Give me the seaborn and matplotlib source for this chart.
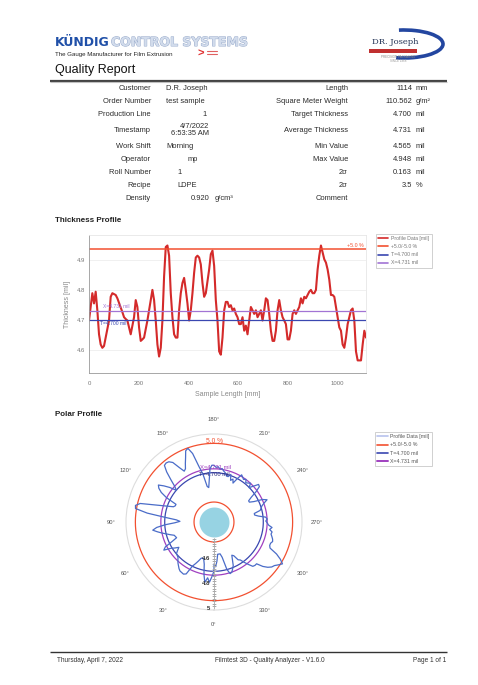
import numpy as np
import pandas as pd
import matplotlib
matplotlib.use("Agg")
import matplotlib.pyplot as plt
import seaborn as sns
from matplotlib.lines import Line2D
from matplotlib.patches import Arc, Rectangle
import matplotlib.patheffects as pe

sns.set_style("white")
plt.rcParams["font.family"] = ["Liberation Sans", "DejaVu Sans"]

# ---------------- data ----------------
left_labels = ["Customer", "Order Number", "Production Line", "Timestamp",
               "Work Shift", "Operator", "Roll Number", "Recipe", "Density"]
left_values = ["D.R. Joseph", "test sample", "1", "4/7/2022\n6:53:35 AM",
               "Morning", "mp", "1", "LDPE", "0.920"]
left_units = ["", "", "", "", "", "", "", "", "g/cm³"]
right_labels = ["Length", "Square Meter Weight", "Target Thickness", "Average Thickness",
                "Min Value", "Max Value", "2σ", "2σ", "Comment"]
right_values = ["1114", "110.562", "4.700", "4.731", "4.565", "4.948", "0.163", "3.5", ""]
right_units = ["mm", "g/m²", "mil", "mil", "mil", "mil", "mil", "%", ""]

length_mm = 1114
target_mil = 4.700
average_mil = 4.731
tolerance_pct = 5.0

thickness_mil = [
    4.698, 4.743, 4.789, 4.755, 4.794, 4.732, 4.652, 4.618, 4.607, 4.613,
    4.641, 4.669, 4.698, 4.777, 4.789, 4.786, 4.783, 4.772, 4.757, 4.743,
    4.726, 4.709, 4.703, 4.698, 4.675, 4.652, 4.681, 4.709, 4.766, 4.743,
    4.675, 4.630, 4.635, 4.641, 4.669, 4.698, 4.732, 4.766, 4.800, 4.766,
    4.698, 4.618, 4.578, 4.607, 4.698, 4.845, 4.943, 4.948, 4.914, 4.789,
    4.709, 4.652, 4.641, 4.641, 4.732, 4.789, 4.823, 4.840, 4.800, 4.755,
    4.698, 4.732, 4.789, 4.857, 4.908, 4.914, 4.908, 4.885, 4.823, 4.777,
    4.789, 4.828, 4.868, 4.919, 4.931, 4.880, 4.766, 4.698, 4.595, 4.584,
    4.641, 4.732, 4.760, 4.760, 4.743, 4.749, 4.732, 4.738, 4.720, 4.709,
    4.686, 4.686, 4.709, 4.664, 4.681, 4.652, 4.698, 4.743, 4.732, 4.720,
    4.732, 4.709, 4.720, 4.732, 4.698, 4.732, 4.772, 4.766, 4.720, 4.664,
    4.630, 4.630, 4.664, 4.732, 4.766, 4.732, 4.709, 4.698, 4.686, 4.635,
    4.635, 4.664, 4.720, 4.732, 4.720, 4.732, 4.743, 4.772, 4.755, 4.777,
    4.772, 4.783, 4.794, 4.800, 4.789, 4.789, 4.800, 4.868, 4.914, 4.948,
    4.925, 4.902, 4.891, 4.868, 4.834, 4.783, 4.783, 4.777, 4.743, 4.709,
    4.675, 4.664, 4.618, 4.607, 4.641, 4.686, 4.709, 4.732, 4.738, 4.698,
    4.595, 4.565, 4.565, 4.565, 4.618, 4.664, 4.641,
]

x_ticks_mm = [0, 200, 400, 600, 800, 1000]
y_ticks_mil = [4.6, 4.7, 4.8, 4.9]
polar_angles_deg = [0, 30, 60, 90, 120, 150, 180, 210, 240, 270, 300, 330]
polar_r_ticks = [4.6, 4.8, 5.0]
polar_r_tick_text = ["4.6", "4.8", "5"]

footer_left = "Thursday, April 7, 2022"
footer_mid = "Filmtest 3D - Quality Analyzer - V1.6.0"
footer_right = "Page 1 of 1"

# ---------------- derived ----------------
n = len(thickness_mil)
position_mm = np.linspace(0, length_mm, n)
upper = target_mil * (1 + tolerance_pct / 100)
lower = target_mil * (1 - tolerance_pct / 100)
df = pd.DataFrame({"position": position_mm, "thickness": thickness_mil})
df["theta"] = np.deg2rad(df["position"] / length_mm * 360.0)
df_closed = pd.concat([df, df.iloc[[0]].assign(theta=2 * np.pi)], ignore_index=True)

# colours
c_profile = "#d42a2a"
c_tol = "#f25030"
c_target = "#3a47b0"
c_avg = "#a274d4"
c_polar = "#4a6cc8"
c_avg_polar = "#a040c0"

# ---------------- figure ----------------
W, H = 478, 685
fig = plt.figure(figsize=(W / 100, H / 100), dpi=100)
fig.patch.set_facecolor("white")
pg = fig.add_axes([0, 0, 1, 1])
pg.set_xlim(0, W)
pg.set_ylim(H, 0)
pg.axis("off")


def rect(l, t, r, b):
    return [l / W, 1 - b / H, (r - l) / W, (b - t) / H]


# header
pg.text(55, 46, "KÜNDIG", fontsize=9, fontweight="heavy", color="#2050a8",
        family="DejaVu Sans", va="baseline")
pg.text(111, 46, "CONTROL SYSTEMS", fontsize=9, fontweight="bold", color="#d2dcec",
        family="DejaVu Sans", va="baseline",
        path_effects=[pe.withStroke(linewidth=0.7, foreground="#9aaccc")])
pg.text(55, 56, "The Gauge Manufacturer for Film Extrusion", fontsize=4.4,
        color="#222222", va="baseline")
pg.text(198, 57, ">", fontsize=8, color="#e03030", fontweight="bold", va="baseline")
pg.plot([207, 217], [50.5, 50.5], color="#e06060", lw=0.8)
pg.plot([207, 217], [53.5, 53.5], color="#e06060", lw=0.8)

# DR Joseph logo
pg.add_patch(Arc((404, 44), 78, 28, theta1=-110, theta2=120, color="#2346a0", lw=2.6))
pg.text(372, 44, "DR. Joseph", fontsize=6, family="DejaVu Serif", color="#223355",
        va="baseline")
pg.add_patch(Rectangle((369, 48.5), 48, 4, color="#c03030", lw=0))
pg.text(398, 58, "PRECISION PACKAGING", fontsize=2.2, color="#888888", ha="center")
pg.text(398, 61.5, "SINCE 1968", fontsize=2.2, color="#999999", ha="center")

pg.text(55, 70, "Quality Report", fontsize=9, color="#111111", va="center")
pg.plot([50, 447], [80.5, 80.5], color="#444444", lw=1.6, solid_capstyle="butt")
pg.plot([50, 447], [82.3, 82.3], color="#c0c0c0", lw=0.8, solid_capstyle="butt")

# table
rows_y = [88, 101, 114, 130, 146, 159, 172, 185, 198]
left_val_pos = [(166, "left"), (166, "left"), (207, "right"), (209, "right"),
                (166, "left"), (188, "left"), (180, "center"), (177, "left"), (210, "right")]
tfs = 5.4
tcol = "#2a2a2a"
for i, y in enumerate(rows_y):
    pg.text(151, y, left_labels[i], fontsize=tfs, color=tcol, ha="right", va="center")
    vx, ha = left_val_pos[i]
    pg.text(vx, y, left_values[i], fontsize=tfs, color=tcol, ha=ha, va="center",
            linespacing=0.95)
    if left_units[i]:
        pg.text(215, y, left_units[i], fontsize=tfs, color=tcol, ha="left", va="center")
    pg.text(348, y, right_labels[i], fontsize=tfs, color=tcol, ha="right", va="center")
    if right_values[i]:
        pg.text(412, y, right_values[i], fontsize=tfs, color=tcol, ha="right", va="center")
    if right_units[i]:
        pg.text(416, y, right_units[i], fontsize=tfs, color=tcol, ha="left", va="center")

# ---------------- thickness profile ----------------
pg.text(55, 220, "Thickness Profile", fontsize=5.8, fontweight="bold", color="#222222",
        va="center")
ax = fig.add_axes(rect(89, 235, 366, 373))
ax.set_facecolor("white")
sns.lineplot(data=df, x="position", y="thickness", ax=ax, color=c_profile, lw=1.5,
             estimator=None, legend=False)
ax.axhline(upper, color=c_tol, lw=1.1)
ax.axhline(lower, color=c_tol, lw=1.1)
ax.axhline(target_mil, color=c_target, lw=0.9)
ax.axhline(average_mil, color=c_avg, lw=0.9)
ax.set_xlim(0, length_mm)
ax.set_ylim(4.523, 4.983)
ax.set_xticks(x_ticks_mm)
ax.set_yticks(y_ticks_mil)
ax.set_xticklabels([str(v) for v in x_ticks_mm])
ax.set_yticklabels([f"{v:.1f}" for v in y_ticks_mil])
ax.tick_params(labelsize=4.3, colors="#777777", length=0)
ax.tick_params(axis="x", pad=6)
ax.tick_params(axis="y", pad=3)
ax.grid(axis="y", color="#eeeeee", lw=0.6)
for s in ax.spines.values():
    s.set_color("#e6e6e6")
    s.set_linewidth(0.6)
ax.spines["left"].set_color("#999999")
ax.spines["bottom"].set_color("#999999")
ax.set_xlabel("Sample Length [mm]", fontsize=5.0, color="#888888", labelpad=3)
ax.set_ylabel("Thickness [mil]", fontsize=5.0, color="#888888", labelpad=4)
ax.text(55, average_mil + 0.004, f"X={average_mil:.3f} mil", fontsize=3.6, color=c_avg,
        va="bottom")
ax.text(45, target_mil - 0.005, f"T={target_mil:.3f} mil", fontsize=3.6, color=c_target,
        va="top")
ax.text(length_mm - 10, upper + 0.006, f"+{tolerance_pct:.1f} %", fontsize=3.8,
        color=c_tol, ha="right", va="bottom")

h1 = [Line2D([0], [0], color=c_profile, lw=1.2, drawstyle="steps-post"),
      Line2D([0], [0], color=c_tol, lw=1.2),
      Line2D([0], [0], color=c_target, lw=1.2),
      Line2D([0], [0], color=c_avg, lw=1.2)]
l1 = ["Profile Data [mil]", f"+{tolerance_pct:.1f}/-{tolerance_pct:.1f} %",
      f"T={target_mil:.3f} mil", f"X={average_mil:.3f} mil"]
leg = fig.legend(h1, l1, loc="upper left", bbox_to_anchor=(373 / W, 1 - 231 / H),
                 fontsize=3.7, frameon=True, fancybox=False, edgecolor="#bbbbbb",
                 handlelength=2.0, borderpad=0.5, labelspacing=0.6, handletextpad=0.5,
                 labelcolor="#777777")
leg.get_frame().set_linewidth(0.6)

# ---------------- polar profile ----------------
pg.text(55, 414, "Polar Profile", fontsize=5.8, fontweight="bold", color="#222222",
        va="center")
pax = fig.add_axes(rect(126, 434, 302, 610), projection="polar")
pax.set_theta_zero_location("S")
pax.set_theta_direction(-1)
r_min, r_max = 4.305, 5.01
theta_full = np.linspace(0, 2 * np.pi, 361)
pax.fill_between(theta_full, r_min, 4.425, color="#97d3e3", lw=0)
pax.plot(theta_full, np.full_like(theta_full, upper), color=c_tol, lw=0.9)
pax.plot(theta_full, np.full_like(theta_full, lower), color=c_tol, lw=0.9)
pax.plot(theta_full, np.full_like(theta_full, average_mil), color=c_avg_polar, lw=0.9)
pax.plot(theta_full, np.full_like(theta_full, target_mil), color=c_target, lw=0.9)
sns.lineplot(data=df_closed, x="theta", y="thickness", ax=pax, color=c_polar, lw=0.9,
             estimator=None, sort=False, legend=False)
pax.plot([0, 0], [4.43, r_max], color="#aaaaaa", lw=0.6)
minor_r = np.arange(4.44, 5.0, 0.02)
pax.plot(np.zeros_like(minor_r), minor_r, ls="none", marker="_", ms=2.2,
         color="#aaaaaa", mew=0.5)
pax.set_rlim(r_min, r_max)
pax.set_yticks([])
pax.set_xlabel("")
pax.set_ylabel("")
pax.grid(False)
pax.spines["polar"].set_color("#dddddd")
pax.spines["polar"].set_linewidth(0.8)
pax.set_thetagrids(polar_angles_deg, [f"{a}°" for a in polar_angles_deg])
pax.tick_params(axis="x", labelsize=4.2, colors="#555555", pad=0)
for rv, rt in zip(polar_r_ticks, polar_r_tick_text):
    pax.annotate(rt, xy=(0, rv), xytext=(-2.5, 0), textcoords="offset points",
                 ha="right", va="center", fontsize=4.3, fontweight="bold", color="#333333")
pax.annotate(f"{tolerance_pct:.1f} %", xy=(np.pi, upper), xytext=(0, 1.5),
             textcoords="offset points", ha="center", va="center", fontsize=4.8,
             color=c_tol)
pax.annotate(f"X={average_mil:.3f} mil", xy=(np.pi, average_mil), xytext=(1, 1),
             textcoords="offset points", ha="center", va="center", fontsize=4.2,
             color=c_avg_polar)
pax.annotate(f"T={target_mil:.3f} mil", xy=(np.pi, target_mil), xytext=(0, -1),
             textcoords="offset points", ha="center", va="center", fontsize=4.2,
             color="#2a2a7a")

h2 = [Line2D([0], [0], color="#b8c2ee", lw=1.2),
      Line2D([0], [0], color=c_tol, lw=1.2),
      Line2D([0], [0], color=c_target, lw=1.2),
      Line2D([0], [0], color=c_avg_polar, lw=1.4)]
leg2 = fig.legend(h2, l1, loc="upper left", bbox_to_anchor=(372 / W, 1 - 429 / H),
                  fontsize=3.8, frameon=True, fancybox=False, edgecolor="#bbbbbb",
                  handlelength=2.0, borderpad=0.5, labelspacing=0.6, handletextpad=0.5,
                  labelcolor="#555555")
leg2.get_frame().set_linewidth(0.6)

# footer
pg.plot([50, 447], [651.5, 651.5], color="#333333", lw=1.0, solid_capstyle="butt")
pg.text(57, 660, footer_left, fontsize=4.7, color="#333333", va="center")
pg.text(215, 660, footer_mid, fontsize=4.7, color="#333333", va="center")
pg.text(446, 660, footer_right, fontsize=4.7, color="#333333", va="center", ha="right")

fig.savefig("out.png", dpi=100, facecolor="white")
